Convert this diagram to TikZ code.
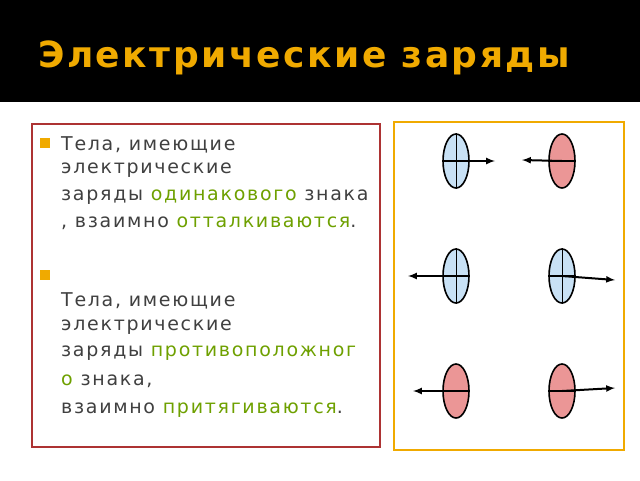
\documentclass[tikz,border=0pt]{standalone}
\usepackage{fontspec}
\setmainfont{DejaVu Sans}
\newfontfamily\bodyfont[LetterSpace=9]{DejaVu Sans}
\newfontfamily\titlefont[LetterSpace=7]{DejaVu Sans}
\usetikzlibrary{shapes.geometric}
\definecolor{hl}{RGB}{110,160,0}
\definecolor{gold}{RGB}{240,170,0}
\definecolor{posfill}{RGB}{200,225,245}
\definecolor{negfill}{RGB}{235,150,150}
\tikzset{poscharge/.style={draw,ellipse,minimum width=26pt,minimum height=54pt,fill=posfill,line width=1.6pt,inner sep=0pt}}
\tikzset{negcharge/.style={draw,ellipse,minimum width=26pt,minimum height=54pt,fill=negfill,line width=1.6pt,inner sep=0pt}}
\tikzset{force/.style={-latex,line width=2pt}}
\tikzset{txt/.style={anchor=west,text=black!75,font=\bodyfont\fontsize{19}{22}\selectfont,inner sep=0pt}}
\begin{document}
\begin{tikzpicture}[x=1pt,y=-1pt]
    \useasboundingbox (0,0) rectangle (640,480);
    \fill[black] (0,0) rectangle (640,102);
    \node[text=gold,font=\titlefont\fontsize{36}{40}\selectfont\bfseries,anchor=west,inner sep=0pt] (title) at (38,58) {Электрические заряды};
    \draw[line width=2.5pt,red!60!black!80] (32,124) rectangle (380,447);
    \draw[line width=2.5pt,gold] (394,122) rectangle (624,450);
    % bullets
    \fill[gold] (40,138) rectangle (50,148);
    \fill[gold] (40,270) rectangle (50,280);
    \node[txt] (l1) at (61,145) {Тела, имеющие};
    \node[txt] (l2) at (61,170) {электрические};
    \node[txt] (l3) at (61,197) {заряды \textcolor{hl}{одинакового} знака};
    \node[txt] (l4) at (61,223) {, взаимно \textcolor{hl}{отталкиваются}.};
    \node[txt] (m1) at (61,301) {Тела, имеющие};
    \node[txt] (m2) at (61,327) {электрические};
    \node[txt] (m3) at (61,353) {заряды \textcolor{hl}{противоположног}};
    \node[txt] (m4) at (61,381) {\textcolor{hl}{о} знака,};
    \node[txt] (m5) at (61,410) {взаимно \textcolor{hl}{притягиваются}.};
    % charges
    \foreach \n/\s/\x/\y in {a/poscharge/456/161,b/negcharge/562/161,c/poscharge/456/276,d/poscharge/562/276,e/negcharge/456/391,f/negcharge/562/391}{
      \node[\s] (\n) at (\x,\y) {};
      \draw[line width=1.6pt] (\n.west) -- (\n.east);
    }
    \foreach \n in {a,c,d}{
      \draw[line width=1pt] (\n.north) -- (\n.south);
    }
    \coordinate (ta) at (495,161);
    \coordinate (tb) at (522,160);
    \coordinate (tc) at (408,276);
    \coordinate (td) at (615,280);
    \coordinate (te) at (413,391);
    \coordinate (tf) at (615,388);
    \foreach \n in {a,b,c,d,e,f}{
      \draw[force] (\n.center) -- (t\n);
    }
\end{tikzpicture}
\end{document}
